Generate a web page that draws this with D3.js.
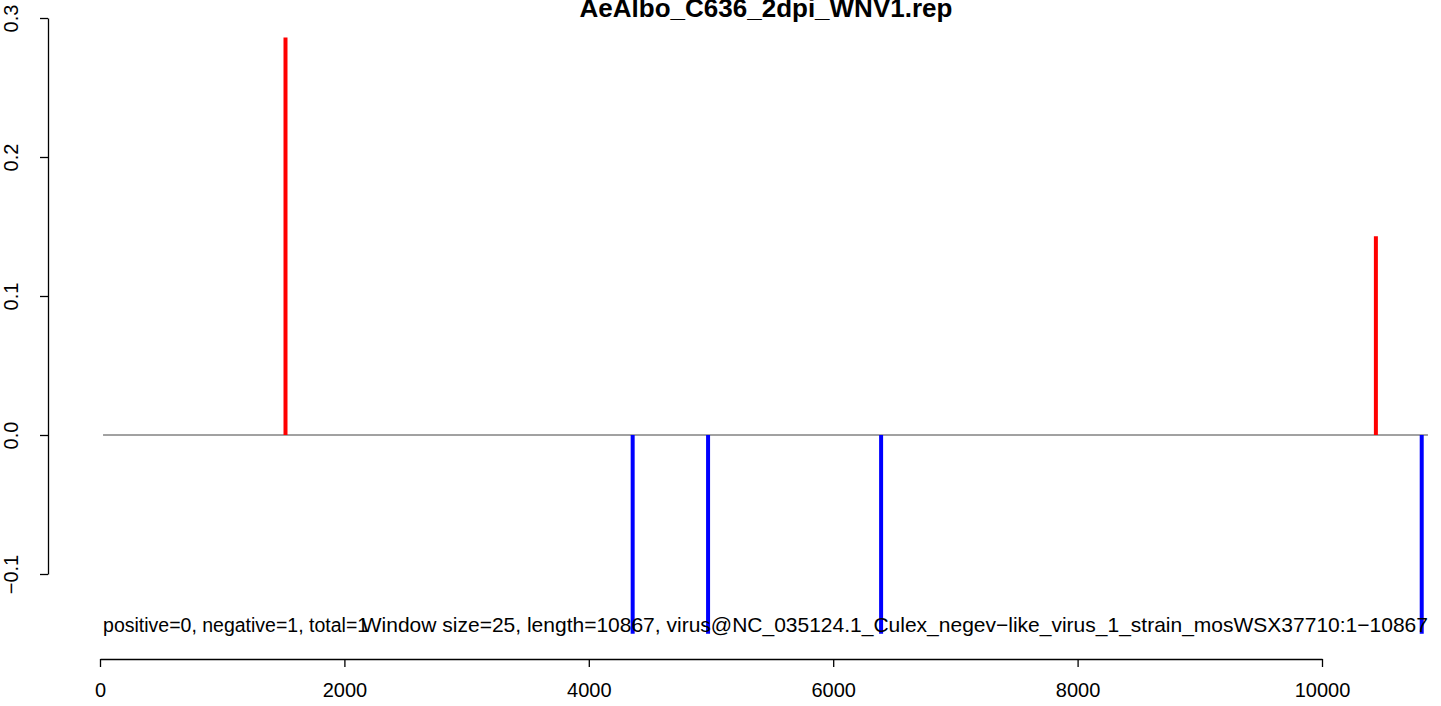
<!DOCTYPE html>
<html><head><meta charset="utf-8">
<script src="https://cdn.jsdelivr.net/npm/d3@7"></script>
<style>body{margin:0;background:#fff}svg{display:block}text{font-family:"Liberation Sans",Arial,sans-serif}</style>
</head><body>
<script>
const title = "AeAlbo_C636_2dpi_WNV1.rep";
const posPositions = [1518, 10441];
const posValues = [0.286, 0.143];
const negPositions = [4359, 4976, 6392, 10816];
const negValues = [-0.143, -0.143, -0.143, -0.143];
const xTicks = [0, 2000, 4000, 6000, 8000, 10000];
const yTicks = [-0.1, 0.0, 0.1, 0.2, 0.3];
const yTickLabels = ["\u22120.1", "0.0", "0.1", "0.2", "0.3"];
const seqStart = 25, seqLength = 10867;
const leftNote = "positive=0, negative=1, total=1";
const rightNote = "Window size=25, length=10867, virus@NC_035124.1_Culex_negev\u2212like_virus_1_strain_mosWSX37710:1\u221210867";

const W = 1441, H = 706;
const FONT = '"Liberation Sans",Arial,sans-serif';
const svg = d3.select("body").append("svg").attr("width", W).attr("height", H);
const x = d3.scaleLinear().domain([0, 10000]).range([100, 1322]);
const y = d3.scaleLinear().domain([-0.1, 0.3]).range([574, 18]);

// baseline
svg.append("line").attr("x1", x(seqStart)).attr("x2", x(seqLength))
  .attr("y1", y(0)).attr("y2", y(0)).attr("stroke", "#444").attr("stroke-width", 1);

// bars
const pos = posPositions.map((p, i) => ({p, v: posValues[i]}));
const neg = negPositions.map((p, i) => ({p, v: negValues[i]}));
svg.selectAll("line.pos").data(pos).enter().append("line")
  .attr("x1", d => x(d.p)).attr("x2", d => x(d.p))
  .attr("y1", y(0)).attr("y2", d => y(d.v))
  .attr("stroke", "#ff0000").attr("stroke-width", 4);
svg.selectAll("line.neg").data(neg).enter().append("line")
  .attr("x1", d => x(d.p)).attr("x2", d => x(d.p))
  .attr("y1", y(0)).attr("y2", d => y(d.v))
  .attr("stroke", "#0000ff").attr("stroke-width", 4);

// notes
svg.append("text").attr("x", x(seqStart)).attr("y", 632)
  .attr("font-size", 19.5).attr("fill", "#000").text(leftNote);
svg.append("text").attr("x", x(seqLength)).attr("y", 632).attr("text-anchor", "end")
  .attr("font-size", 21).attr("fill", "#000").text(rightNote);

// x axis
const xa = svg.append("g").attr("transform", "translate(0,659)")
  .call(d3.axisBottom(x).tickValues(xTicks).tickSize(8).tickSizeOuter(0).tickPadding(16).tickFormat(d3.format("d")));
xa.selectAll("path,line").attr("stroke", "#000").attr("stroke-width", 1.3);
xa.selectAll("text").attr("font-size", 20).attr("fill", "#000").attr("font-family", FONT);

// y axis
const ya = svg.append("g").attr("transform", "translate(48,0)")
  .call(d3.axisLeft(y).tickValues(yTicks).tickSize(8).tickSizeOuter(0).tickFormat((d, i) => yTickLabels[i]));
ya.selectAll("path,line").attr("stroke", "#000").attr("stroke-width", 1.3);
ya.selectAll("text").attr("font-size", 20).attr("fill", "#000")
  .attr("font-family", FONT)
  .attr("text-anchor", "middle").attr("dy", null)
  .attr("transform", "translate(-36,0) rotate(-90)")
  .attr("x", 0).attr("y", 6);

// title
svg.append("text").attr("x", 766).attr("y", 17).attr("text-anchor", "middle")
  .attr("font-size", 26).attr("font-weight", "bold").attr("fill", "#000").text(title);
</script>
</body></html>
